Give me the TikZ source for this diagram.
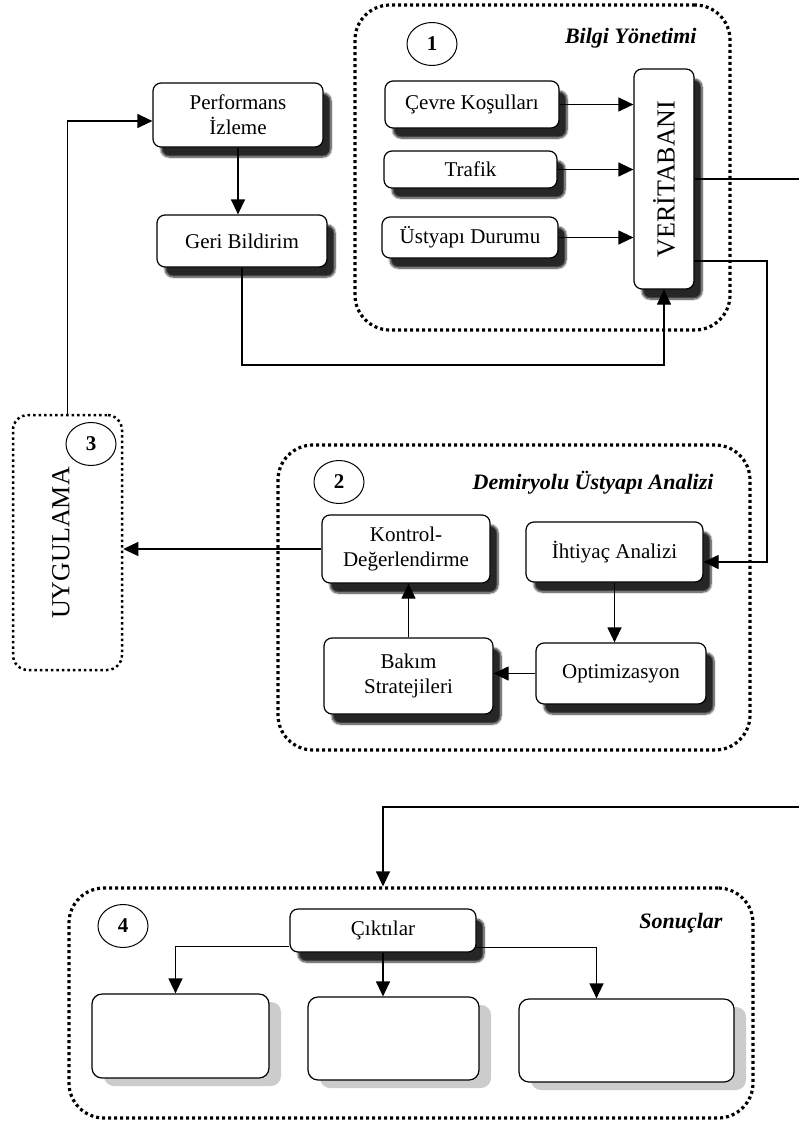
\documentclass[tikz,border=0pt]{standalone}
\usepackage{fontspec}
\setmainfont{Liberation Serif}
\usetikzlibrary{arrows.meta,shapes.geometric,shadows,shadows.blur}

\begin{document}
\begin{tikzpicture}[x=1pt, y=-1pt, >={Triangle[length=15pt,width=14pt]},
    box/.style={draw, line width=1.2pt, rounded corners=8pt, fill=white, align=center, inner sep=2pt,
        font=\fontsize{21}{25}\selectfont,
        blur shadow={shadow xshift=8pt, shadow yshift=-10pt, shadow blur steps=8, shadow opacity=85}},
    outbox/.style={draw, line width=1.2pt, rounded corners=10pt, fill=white,
        drop shadow={shadow xshift=12pt, shadow yshift=-8pt, fill=black!20, opacity=1}},
    group/.style={draw, line width=3.2pt, dash pattern=on 3pt off 3pt, rounded corners=35pt, inner sep=0pt},
    num/.style={draw, ellipse, line width=1pt, minimum width=50pt, minimum height=43pt, inner sep=0pt,
        font=\fontsize{21}{21}\selectfont\bfseries},
    title/.style={anchor=east, font=\fontsize{22}{22}\selectfont\bfseries\itshape},
    big/.style={rotate=90, font=\fontsize{26}{26}\selectfont},
    link/.style={line width=1.2pt}]
    \useasboundingbox (0,0) rectangle (799,1122);

    % 1: Bilgi Yonetimi
    \node[group, minimum width=375pt, minimum height=325pt] (g1) at (542.5,167.5) {};
    \node[num] (n1) at (432,44) {1};
    \node[title] (t1) at (700,38) {Bilgi Yönetimi};
    \node[box, minimum width=174pt, minimum height=47pt] (cevre) at (472,104.5) {Çevre Koşulları};
    \node[box, minimum width=173pt, minimum height=37pt] (trafik) at (470.5,169.5) {Trafik};
    \node[box, minimum width=176pt, minimum height=41pt] (ustyapi) at (470,237.5) {Üstyapı Durumu};
    \node[box, minimum width=60pt, minimum height=220pt] (vt) at (664,179) {};
    \node[big] (vtlabel) at (vt) {VERİTABANI};

    \node[box, minimum width=170pt, minimum height=64pt] (perf) at (238,115) {Performans\\İzleme};
    \node[box, minimum width=170pt, minimum height=52pt] (geri) at (242,241) {Geri Bildirim};

    % 3: Uygulama
    \node[draw, line width=2.5pt, dash pattern=on 2.5pt off 3pt, rounded corners=15pt,
        minimum width=109pt, minimum height=255pt] (uyg) at (67.5,542.5) {};
    \node[num] (n3) at (91,444) {3};
    \node[big] (uyglabel) at (61,543) {UYGULAMA};

    % 2: Demiryolu Ustyapi Analizi
    \node[group, minimum width=472pt, minimum height=305pt] (g2) at (514,597.5) {};
    \node[num] (n2) at (339,482) {2};
    \node[title] (t2) at (717,483) {Demiryolu Üstyapı Analizi};
    \node[box, minimum width=168pt, minimum height=68pt] (kontrol) at (406,549) {Kontrol-\\Değerlendirme};
    \node[box, minimum width=177pt, minimum height=60pt] (ihtiyac) at (614.5,552) {İhtiyaç Analizi};
    \node[box, minimum width=169pt, minimum height=76pt] (bakim) at (408.5,676) {Bakım\\Stratejileri};
    \node[box, minimum width=170pt, minimum height=61pt] (optim) at (621,673.5) {Optimizasyon};

    % 4: Sonuclar
    \node[group, minimum width=684pt, minimum height=230pt] (g4) at (411,1003) {};
    \node[num] (n4) at (123,926) {4};
    \node[title] (t4) at (726,923) {Sonuçlar};
    \node[box, minimum width=186pt, minimum height=43pt] (cikti) at (383,930.5) {Çıktılar};
    \node[outbox, minimum width=177pt, minimum height=84pt] (out1) at (180.5,1036) {};
    \node[outbox, minimum width=171pt, minimum height=83pt] (out2) at (393.5,1038.5) {};
    \node[outbox, minimum width=215pt, minimum height=83pt] (out3) at (626.5,1040.5) {};

    \coordinate (edgeA) at (799,179);
    \coordinate (edgeB) at (799,807);
    \coordinate (vtlow) at (694,261);
    \coordinate (bend) at (767,261);
    \coordinate (fb) at (0,365);

    % connectors
    \draw[link,->] (cevre.east) -- (vt.west |- cevre.east);
    \draw[link,->] (trafik.east) -- (vt.west |- trafik.east);
    \draw[link,->] (ustyapi.east) -- (vt.west |- ustyapi.east);
    \draw[link] (vt.east) -- (edgeA);
    \draw[link,->] (edgeB) -| (cikti.north |- g4.north);
    \draw[link,->] (vtlow) -- (bend) |- ([yshift=-10pt]ihtiyac.east);
    \draw[link,->] (perf.south) -- (perf.south |- geri.north);
    \draw[link,->] (geri.south) |- (fb -| vt.south) -- (vt.south);
    \draw[link,->] (uyg.north) |- ([yshift=-6pt]perf.west);
    \draw[link,->] (kontrol.west) -- (kontrol.west -| uyg.east);
    \draw[link,->] (ihtiyac.south) -- (ihtiyac.south |- optim.north);
    \draw[link,->] (optim.west) -- (optim.west -| bakim.east);
    \draw[link,->] (bakim.north) -- (bakim.north |- kontrol.south);
    \draw[link,->] ([yshift=-16pt]cikti.west) -| ([xshift=-5pt]out1.north);
    \draw[link,->] (cikti.south) -- (cikti.south |- out2.north);
    \draw[link,->] ([yshift=-17pt]cikti.east) -| ([xshift=-30pt]out3.north);
\end{tikzpicture}
\end{document}
